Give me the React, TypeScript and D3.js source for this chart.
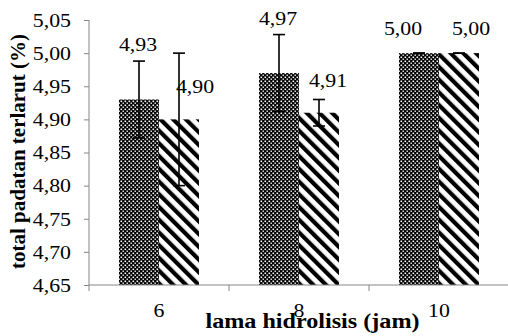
import { select, scaleBand, scaleLinear, axisLeft, format } from "d3";
import React, { useEffect, useRef } from "react";

const categories = ["6", "8", "10"];
const seriesA = [4.93, 4.97, 5.0];
const errorA = [0.058, 0.058, 0];
const seriesB = [4.9, 4.91, 5.0];
const errorB = [0.1, 0.02, 0];
const yTicks = [4.65, 4.7, 4.75, 4.8, 4.85, 4.9, 4.95, 5.0, 5.05];

// label nudges (the original labels were dragged around by hand)
const labelShift = [
  [[-1, -49], [16, -26]],
  [[-1, -48], [9, -26]],
  [[-16, -18], [12, -18]],
];

const width = 508;
const height = 336;
const marginTop = 20;
const marginBottom = 51;
const marginLeft = 89;
const marginRight = -1;
const sx = 1.15;
const font = '"Liberation Serif", "Times New Roman", serif';

const App = () => {
  const svgRef = useRef(null);

  useEffect(() => {
    const svg = select(svgRef.current);
    svg.selectAll("*").remove();

    const defs = svg.append("defs");
    const dots = defs
      .append("pattern")
      .attr("id", "dots")
      .attr("patternUnits", "userSpaceOnUse")
      .attr("width", 4)
      .attr("height", 4);
    dots.append("rect").attr("width", 4).attr("height", 4).attr("fill", "#000");
    dots.append("rect").attr("x", 0.5).attr("y", 0.5).attr("width", 1.6).attr("height", 1.6).attr("fill", "#fff");
    dots.append("rect").attr("x", 2.5).attr("y", 2.5).attr("width", 1.4).attr("height", 1.4).attr("fill", "#fff");

    const stripes = defs
      .append("pattern")
      .attr("id", "stripes")
      .attr("patternUnits", "userSpaceOnUse")
      .attr("width", 9)
      .attr("height", 9)
      .attr("patternTransform", "rotate(-45)");
    stripes.append("rect").attr("width", 9).attr("height", 9).attr("fill", "#fff");
    stripes.append("rect").attr("width", 4.2).attr("height", 9).attr("fill", "#000");

    const xScale = scaleBand()
      .domain(categories)
      .range([marginLeft, width - marginRight])
      .paddingInner(60 / 140)
      .paddingOuter(30 / 140);
    const sub = scaleBand().domain(["a", "b"]).range([0, xScale.bandwidth()]);
    const yScale = scaleLinear().domain([4.65, 5.05]).range([height - marginBottom, marginTop]);
    const y0 = height - marginBottom;

    const series = [
      { key: "a", values: seriesA, errors: errorA, fill: "url(#dots)" },
      { key: "b", values: seriesB, errors: errorB, fill: "url(#stripes)" },
    ];

    // bars
    series.forEach((s) => {
      svg
        .append("g")
        .selectAll("rect")
        .data(s.values)
        .join("rect")
        .attr("x", (d, i) => xScale(categories[i]) + sub(s.key))
        .attr("y", (d) => yScale(d))
        .attr("width", sub.bandwidth())
        .attr("height", (d) => y0 - yScale(d))
        .attr("fill", s.fill);
    });

    // axes
    const axisColor = "#868686";
    const yAxis = axisLeft(yScale)
      .tickValues(yTicks)
      .tickSize(5)
      .tickPadding(13)
      .tickFormat((d) => format(".2f")(d).replace(".", ","));
    svg
      .append("g")
      .attr("transform", `translate(${marginLeft},0)`)
      .call(yAxis)
      .attr("font-family", null)
      .attr("font-size", null)
      .call((g) => g.select(".domain").attr("stroke", axisColor).attr("d", `M0,${marginTop}V${y0}`))
      .call((g) => g.selectAll(".tick line").attr("stroke", axisColor))
      .call((g) =>
        g
          .selectAll(".tick text")
          .attr("fill", "#000")
          .style("font-family", font)
          .style("font-size", "19px")
          .attr("dy", "0.33em")
          .attr("x", 0)
          .attr("transform", `translate(-18,0) scale(${sx},1)`)
      );

    const xLine = svg.append("g").attr("transform", `translate(0,${y0})`);
    xLine
      .append("line")
      .attr("x1", marginLeft)
      .attr("x2", width - marginRight)
      .attr("stroke", axisColor);
    const step = xScale.step();
    xLine
      .selectAll("line.tk")
      .data(categories)
      .join("line")
      .attr("class", "tk")
      .attr("x1", (d) => xScale(d) - (step - xScale.bandwidth()) / 2)
      .attr("x2", (d) => xScale(d) - (step - xScale.bandwidth()) / 2)
      .attr("y1", 0)
      .attr("y2", 6)
      .attr("stroke", axisColor);
    xLine
      .selectAll("text")
      .data(categories)
      .join("text")
      .attr("transform", (d) => `translate(${xScale(d) + xScale.bandwidth() / 2},32) scale(${sx},1)`)
      .attr("text-anchor", "middle")
      .style("font-family", font)
      .style("font-size", "19px")
      .text((d) => d);

    // error bars
    series.forEach((s) => {
      const g = svg.append("g").attr("stroke", "#000").attr("stroke-width", 1.6);
      s.values.forEach((v, i) => {
        const cx = xScale(categories[i]) + sub(s.key) + sub.bandwidth() / 2;
        const top = yScale(v + s.errors[i]);
        const bot = yScale(v - s.errors[i]);
        g.append("line").attr("x1", cx).attr("x2", cx).attr("y1", top).attr("y2", bot);
        g.append("line").attr("x1", cx - 6).attr("x2", cx + 6).attr("y1", top).attr("y2", top);
        g.append("line").attr("x1", cx - 6).attr("x2", cx + 6).attr("y1", bot).attr("y2", bot);
      });
    });

    // value labels
    series.forEach((s, si) => {
      s.values.forEach((v, i) => {
        const cx = xScale(categories[i]) + sub(s.key) + sub.bandwidth() / 2;
        const [dx, dy] = labelShift[i][si];
        svg
          .append("text")
          .attr("transform", `translate(${cx + dx},${yScale(v) + dy}) scale(${sx},1)`)
          .attr("text-anchor", "middle")
          .style("font-family", font)
          .style("font-size", "19px")
          .attr("fill", "#000")
          .text(format(".2f")(v).replace(".", ","));
      });
    });

    // axis titles
    svg
      .append("text")
      .attr("transform", `translate(${(marginLeft + width) / 2 + 14},${height - 8}) scale(${sx},1)`)
      .attr("text-anchor", "middle")
      .style("font-family", font)
      .style("font-weight", "bold")
      .style("font-size", "21px")
      .text("lama hidrolisis (jam)");
    svg
      .append("text")
      .attr("transform", `translate(25,${(marginTop + y0) / 2 - 1}) rotate(-90)`)
      .attr("text-anchor", "middle")
      .style("font-family", font)
      .style("font-weight", "bold")
      .style("font-size", "21px")
      .text("total padatan terlarut (%)");
  }, []);

  return (
    <svg
      ref={svgRef}
      width={width}
      height={height}
      style={{ position: "absolute", left: 0, top: 0, background: "#fff" }}
    />
  );
};

export default App;
